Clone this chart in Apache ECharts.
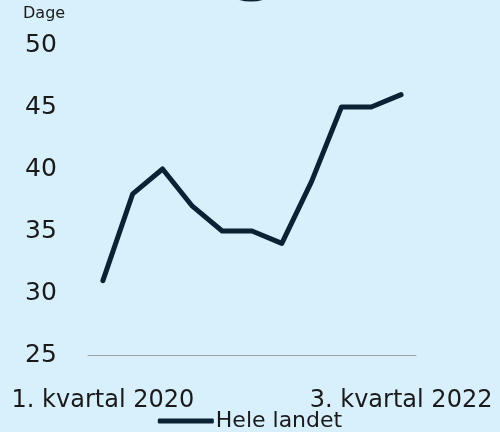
<!DOCTYPE html>
<html>
<head>
<meta charset="utf-8">
<script src="https://cdn.jsdelivr.net/npm/echarts@6/dist/echarts.min.js"></script>
<style>
  html, body { margin: 0; padding: 0; background: #d8effc; }
  #chart { width: 500px; height: 432px; }
</style>
</head>
<body>
<div id="chart"></div>
<script>
// kvartaler, 1. kvartal 2020 - 3. kvartal 2022
var quarters = [
    '1. kvartal 2020', '2. kvartal 2020', '3. kvartal 2020', '4. kvartal 2020',
    '1. kvartal 2021', '2. kvartal 2021', '3. kvartal 2021', '4. kvartal 2021',
    '1. kvartal 2022', '2. kvartal 2022', '3. kvartal 2022'
];
var heleLandet = [31, 38, 40, 37, 35, 35, 34, 39, 45, 45, 46];
var yTicks = [25, 30, 35, 40, 45, 50];

var myChart = echarts.init(document.getElementById('chart'));
var option = {
    backgroundColor: '#d8effc',
    color: ['#0a2233'],
    animation: false,
    grid: {
        left: 88,
        right: 84,
        top: 45,
        bottom: 77
    },
    graphic: [{
        type: 'circle',
        shape: { cx: 251, cy: -42, r: 42 },
        style: { fill: 'none', stroke: '#0a2233', lineWidth: 3 }
    }, {
        type: 'text',
        left: 23,
        top: 6,
        style: {
            text: 'Dage',
            fontSize: 16,
            fontFamily: 'DejaVu Sans',
            fill: '#1a1a1a'
        }
    }],
    legend: {
        bottom: -5,
        left: 'center',
        icon: 'roundRect',
        itemWidth: 56,
        itemHeight: 5,
        itemGap: 20,
        textStyle: {
            fontSize: 22,
            fontFamily: 'DejaVu Sans',
            color: '#1a1a1a',
            padding: [0, 0, 0, -3]
        },
        data: ['Hele landet']
    },
    xAxis: {
        type: 'category',
        data: quarters,
        boundaryGap: true,
        axisLine: {
            show: true,
            lineStyle: { color: '#a0a0a0', width: 1 }
        },
        axisTick: { show: false },
        axisLabel: {
            interval: 9,
            fontSize: 24,
            fontFamily: 'DejaVu Sans',
            color: '#1a1a1a',
            margin: 34
        }
    },
    yAxis: {
        type: 'value',
        min: yTicks[0],
        max: yTicks[yTicks.length - 1],
        interval: 5,
        axisLine: { show: false },
        axisTick: { show: false },
        splitLine: { show: false },
        axisLabel: {
            align: 'left',
            margin: 63,
            fontSize: 25,
            fontFamily: 'DejaVu Sans',
            color: '#1a1a1a'
        }
    },
    series: [{
        name: 'Hele landet',
        type: 'line',
        data: heleLandet,
        showSymbol: false,
        symbol: 'none',
        lineStyle: { width: 5, color: '#0a2233', cap: 'round', join: 'round' }
    }]
};
myChart.setOption(option);
</script>
</body>
</html>
